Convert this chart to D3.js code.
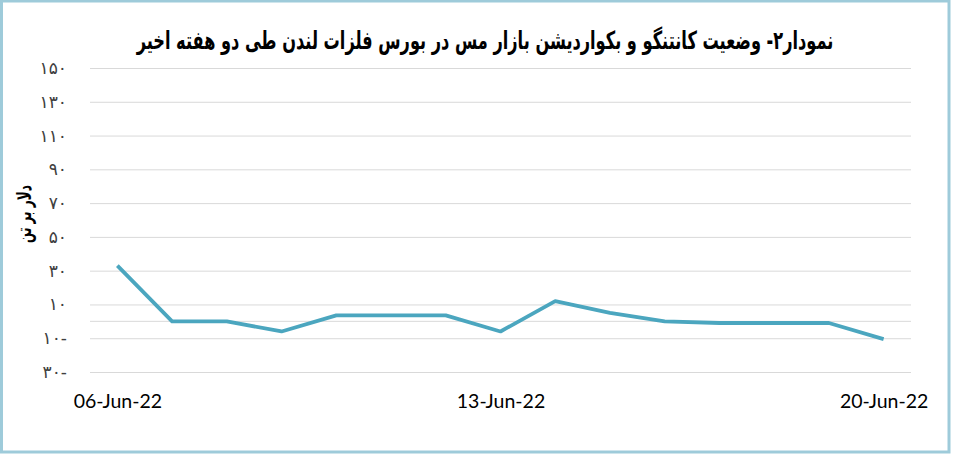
<!DOCTYPE html>
<html>
<head>
<meta charset="utf-8">
<script src="https://cdn.jsdelivr.net/npm/d3@7"></script>
<style>
  body { margin: 0; background: #fff; }
  .grid line { stroke: #d9d9d9; stroke-width: 1; }
  .grid path { display: none; }
  .yaxis path, .yaxis line { display: none; }
  .yaxis text { font-family: "DejaVu Sans", sans-serif; font-size: 17px; fill: #404040; }
  .xaxis path, .xaxis line { display: none; }
  .xaxis text { font-family: Lato, "Open Sans", sans-serif; font-size: 19.5px; fill: #000; }
  .line { stroke: #4ba6bf; stroke-width: 3.8; fill: none; }
</style>
</head>
<body>
<div id="chart"></div>
<script>
// daily dates, 6 to 20 June 2022
var dates = ["2022-06-06", "2022-06-07", "2022-06-08", "2022-06-09", "2022-06-10",
  "2022-06-11", "2022-06-12", "2022-06-13", "2022-06-14", "2022-06-15",
  "2022-06-16", "2022-06-17", "2022-06-18", "2022-06-19", "2022-06-20"];
// contango / backwardation, $ per tonne
var spread = [33, 0, 0, -6, 3.5, 3.5, 3.5, -6, 12, 5, 0, -1, -1, -1, -10.5];
var yTicks = [150, 130, 110, 90, 70, 50, 30, 10, -10, -30];
var xTickDates = ["2022-06-06", "2022-06-13", "2022-06-20"];

var titleText = "نمودار۲- وضعیت کانتنگو و بکواردیشن بازار مس در بورس فلزات لندن طی دو هفته اخیر";
var yLabelText = "دلار بر تن";

var parseTime = d3.timeParse("%Y-%m-%d");
var formatDate = d3.timeFormat("%d-%b-%y");

var dataset = dates.map(function(d, i) {
  return { date: parseTime(d), value: spread[i] };
});

// persian digits, minus sign after number like the source
function faNum(n) {
  var s = String(Math.abs(n)).replace(/[0-9]/g, function(c) {
    return "۰۱۲۳۴۵۶۷۸۹"[+c];
  });
  return n < 0 ? s + "-" : s;
}

var Chart = {
  width: 953,
  height: 455,
  plotLeft: 90,
  plotRight: 911,
  plotTop: 68,
  plotBottom: 372,

  drawPlot: function() {
    this.svg = d3.select("#chart")
      .append("svg")
      .attr("width", this.width)
      .attr("height", this.height);

    // frame
    this.svg.append("rect")
      .attr("x", 1.5)
      .attr("y", 1)
      .attr("width", 947.5)
      .attr("height", 451)
      .attr("fill", "#fff")
      .attr("stroke", "#9ecbda")
      .attr("stroke-width", 3);
  },

  createScales: function() {
    this.xScale = d3.scalePoint()
      .domain(dataset.map(function(d) { return +d.date; }))
      .range([this.plotLeft, this.plotRight])
      .padding(0.5);

    this.yScale = d3.scaleLinear()
      .domain([-30, 150])
      .range([this.plotBottom, this.plotTop]);
  },

  addAxes: function() {
    this.svg.append("g")
      .attr("class", "grid")
      .attr("transform", "translate(" + this.plotLeft + ",0)")
      .call(d3.axisLeft(this.yScale)
        .tickValues(yTicks)
        .tickSize(-(this.plotRight - this.plotLeft))
        .tickFormat(""));

    // zero line
    this.svg.append("line")
      .attr("x1", this.plotLeft)
      .attr("x2", this.plotRight)
      .attr("y1", this.yScale(0))
      .attr("y2", this.yScale(0))
      .attr("stroke", "#d9d9d9");

    this.svg.append("g")
      .attr("class", "yaxis")
      .attr("transform", "translate(67,0)")
      .call(d3.axisLeft(this.yScale)
        .tickValues(yTicks)
        .tickSize(0)
        .tickPadding(0)
        .tickFormat(faNum));

    this.svg.append("g")
      .attr("class", "xaxis")
      .attr("transform", "translate(0,394)")
      .call(d3.axisBottom(this.xScale)
        .tickValues(xTickDates.map(function(d) { return +parseTime(d); }))
        .tickSize(0)
        .tickPadding(0)
        .tickFormat(function(d) { return formatDate(new Date(d)); }));
  },

  drawData: function() {
    var that = this;
    var line = d3.line()
      .x(function(d) { return that.xScale(+d.date); })
      .y(function(d) { return that.yScale(d.value); });

    this.svg.append("path")
      .datum(dataset)
      .attr("class", "line")
      .attr("stroke-linejoin", "round")
      .attr("d", line);
  },

  addLabels: function() {
    var title = this.svg.append("text")
      .attr("text-anchor", "middle")
      .attr("font-family", "DejaVu Sans, sans-serif")
      .attr("font-weight", "bold")
      .attr("font-size", 25)
      .attr("direction", "rtl")
      .attr("fill", "#000")
      .text(titleText);
    // squeeze to the width of the condensed original
    var w = title.node().getComputedTextLength();
    title.attr("transform", "translate(485,49) scale(" + (697 / w) + ",1)");

    var ylab = this.svg.append("text")
      .attr("text-anchor", "middle")
      .attr("font-family", "DejaVu Sans, sans-serif")
      .attr("font-weight", "bold")
      .attr("font-size", 20)
      .attr("direction", "rtl")
      .attr("fill", "#000")
      .text(yLabelText);
    var lw = ylab.node().getComputedTextLength();
    ylab.attr("transform", "translate(31,214) rotate(-90) scale(" + (58 / lw) + ",1)");
  },

  draw: function() {
    this.drawPlot();
    this.createScales();
    this.addAxes();
    this.drawData();
    this.addLabels();
  }
};

Chart.draw();
</script>
</body>
</html>
